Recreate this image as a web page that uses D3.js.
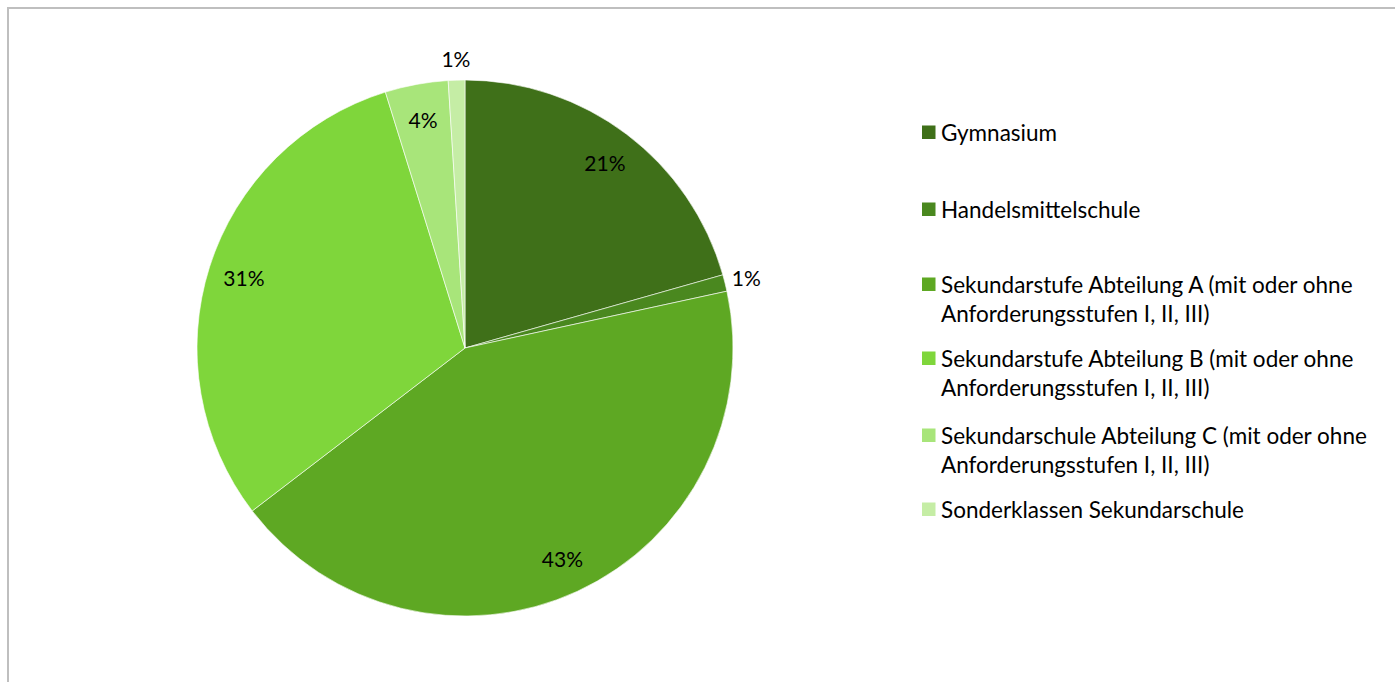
<!DOCTYPE html>
<html><head><meta charset="utf-8">
<script src="https://cdn.jsdelivr.net/npm/d3@7"></script>
<style>html,body{margin:0;padding:0;background:#fff;overflow:hidden}</style>
</head><body>
<svg id="chart" width="1395" height="682"></svg>
<script>
const categories = [
  "Gymnasium",
  "Handelsmittelschule",
  "Sekundarstufe Abteilung A (mit oder ohne Anforderungsstufen I, II, III)",
  "Sekundarstufe Abteilung B (mit oder ohne Anforderungsstufen I, II, III)",
  "Sekundarschule Abteilung C (mit oder ohne Anforderungsstufen I, II, III)",
  "Sonderklassen Sekundarschule"
];
const legendLines = [
  ["Gymnasium"],
  ["Handelsmittelschule"],
  ["Sekundarstufe Abteilung A (mit oder ohne", "Anforderungsstufen I, II, III)"],
  ["Sekundarstufe Abteilung B (mit oder ohne", "Anforderungsstufen I, II, III)"],
  ["Sekundarschule Abteilung C (mit oder ohne", "Anforderungsstufen I, II, III)"],
  ["Sonderklassen Sekundarschule"]
];
const values = [20.6, 1.0, 43.0, 30.6, 3.8, 1.0];
const labels = ["21%", "1%", "43%", "31%", "4%", "1%"];
const colors = ["#3f7019", "#4a881f", "#5ea823", "#7fd63b", "#a8e57a", "#c5eda5"];
const outside = [false, true, false, false, false, true];

const svg = d3.select("#chart");
const FONT = "Lato, 'Open Sans', sans-serif";

svg.append("path")
  .attr("d", "M8,690 L8,8 L1400,8")
  .attr("fill", "none").attr("stroke", "#bfbfbf").attr("stroke-width", 2);

const cx = 465, cy = 348, R = 268;
const g = svg.append("g").attr("transform", `translate(${cx},${cy})`);
const pie = d3.pie().sort(null).value(d => d);
const arcs = pie(values);
const arc = d3.arc().innerRadius(0).outerRadius(R);

g.selectAll("path.slice").data(arcs).enter().append("path")
  .attr("class", "slice")
  .attr("d", arc)
  .attr("fill", (d, i) => colors[i])
  .attr("stroke", "#ffffff").attr("stroke-width", 0.6);

const inArc = d3.arc().innerRadius(232).outerRadius(232);
const outArc = d3.arc().innerRadius(290).outerRadius(290);
g.selectAll("text.lbl").data(arcs).enter().append("text")
  .attr("class", "lbl")
  .attr("transform", (d, i) => `translate(${(outside[i] ? outArc : inArc).centroid(d)})`)
  .attr("text-anchor", "middle")
  .attr("dominant-baseline", "central")
  .attr("font-family", FONT).attr("font-size", 21).attr("fill", "#000")
  .text((d, i) => labels[i]);

const legendY = [132, 209, 284, 358, 435, 509];
const lg = svg.append("g");
legendLines.forEach((lines, i) => {
  lg.append("rect").attr("x", 922).attr("y", legendY[i] - 6.5).attr("width", 13.5).attr("height", 13.5)
    .attr("fill", colors[i]);
  lines.forEach((t, j) => {
    lg.append("text").attr("x", 941).attr("y", legendY[i] + j * 29.5)
      .attr("dominant-baseline", "central")
      .attr("font-family", FONT).attr("font-size", 22.5).attr("fill", "#000")
      .text(t);
  });
});
</script>
</body></html>
